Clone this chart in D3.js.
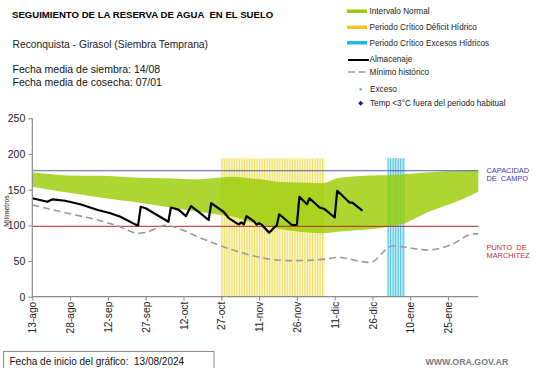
<!DOCTYPE html>
<html><head><meta charset="utf-8">
<script src="https://cdn.jsdelivr.net/npm/d3@7"></script>
<style>
html,body{margin:0;padding:0;background:#fff;}
svg{display:block;font-family:Arial,"Liberation Sans",sans-serif;}
</style></head>
<body>
<svg id="chart" width="541" height="368"></svg>
<script>
// ---------- DATA ----------
const startDate = "2024-08-13";
const endDate = "2025-02-06";
const yTicks = [0, 50, 100, 150, 200, 250];
const monthNames = ["ene","feb","mar","abr","may","jun","jul","ago","sep","oct","nov","dic"];

const capacidadCampo = 176.5;
const puntoMarchitez = 98.6;

const deficitPeriod = ["2024-10-27", "2024-12-06"];
const excesoPeriod = ["2025-01-01", "2025-01-07"];
const periodTop = 194;

const bandDates = ["2024-08-13","2024-08-20","2024-08-27","2024-09-09","2024-09-22","2024-10-05","2024-10-18","2024-10-27","2024-11-01","2024-11-07","2024-11-14","2024-11-18","2024-11-27","2024-12-06","2024-12-12","2024-12-17","2024-12-21","2024-12-25","2025-01-03","2025-01-07","2025-01-16","2025-01-30","2025-02-06"];
const bandUpper = [174,172,170,169.5,167,166,164.5,167,168,166,163.5,161,160,159,166,168,169,170,170.5,171.5,174,176.6,176.6];
const bandLower = [154,150,146,139,133,126,119,114.5,112,105,99,96,91,89,91,92.5,93.5,94.5,99,102,117,135.5,147];

const almDates = ["2024-08-13","2024-08-19","2024-08-21","2024-08-26","2024-09-01","2024-09-08","2024-09-13","2024-09-17","2024-09-23","2024-09-24","2024-09-25","2024-09-27","2024-10-06","2024-10-07","2024-10-10","2024-10-13","2024-10-15","2024-10-18","2024-10-22","2024-10-23","2024-10-28","2024-10-30","2024-11-02","2024-11-03","2024-11-04","2024-11-05","2024-11-06","2024-11-09","2024-11-10","2024-11-11","2024-11-12","2024-11-15","2024-11-17","2024-11-18","2024-11-19","2024-11-24","2024-11-26","2024-11-27","2024-11-30","2024-12-01","2024-12-05","2024-12-07","2024-12-11","2024-12-12","2024-12-17","2024-12-18","2024-12-22"];
const almValues = [138,133,136.5,134.5,129.5,121.5,117,112,101,100,126,124,105,125,122,113,127,119,107.5,131,118.7,110,103,101.5,104,101.5,113,105.6,101,103,101,89.7,97,99.5,115.5,100.5,100.5,140,129.5,138,125,122.8,111,148.5,131.7,131.7,120.5];

const minDates = ["2024-08-13","2024-08-27","2024-09-09","2024-09-16","2024-09-24","2024-09-27","2024-10-02","2024-10-05","2024-10-08","2024-10-19","2024-10-27","2024-11-09","2024-11-18","2024-11-25","2024-12-08","2024-12-12","2024-12-25","2025-01-03","2025-01-17","2025-01-26","2025-02-04","2025-02-06"];
const minValues = [128.5,117,106.5,99,89,90,97,100.5,98,82,71,57,51.5,50.5,53,55,48,71,65.5,72.5,88,88];

// ---------- SETUP ----------
const parse = d3.timeParse("%Y-%m-%d");
const svg = d3.select("#chart");
const x = d3.scaleTime().domain([parse(startDate), parse(endDate)]).range([32.3, 478.3]);
const y = d3.scaleLinear().domain([0, 250]).range([296.7, 118.3]);

const band = bandDates.map((d,i)=>({date:parse(d), hi:bandUpper[i], lo:bandLower[i]}));
const alm = almDates.map((d,i)=>({date:parse(d), v:almValues[i]}));
const mn = minDates.map((d,i)=>({date:parse(d), v:minValues[i]}));

// critical period bars (behind the band)
function periodBars(period, fill, stroke){
  const days = d3.timeDay.range(parse(period[0]), d3.timeDay.offset(parse(period[1]),1));
  const g = svg.append("g");
  days.forEach(d=>{
    const x0 = x(d), x1 = x(d3.timeDay.offset(d,1));
    g.append("rect").attr("x", x0).attr("y", y(periodTop)).attr("width", x1-x0).attr("height", y(0)-y(periodTop))
      .attr("fill", fill);
    g.append("line").attr("x1", x0+0.5).attr("x2", x0+0.5).attr("y1", y(periodTop)).attr("y2", y(0))
      .attr("stroke", stroke).attr("stroke-width", 0.9);
  });
}
periodBars(deficitPeriod, "#faf4bf", "#ebdc62");
periodBars(excesoPeriod, "#c4ecf7", "#3cbde2");

// green band
svg.append("path").datum(band)
  .attr("d", d3.area().x(d=>x(d.date)).y0(d=>y(d.lo)).y1(d=>y(d.hi)).curve(d3.curveMonotoneX))
  .attr("fill", "#99cc00").attr("fill-opacity", 0.8);

// reference lines
svg.append("line").attr("x1", x.range()[0]).attr("x2", x.range()[1])
  .attr("y1", y(capacidadCampo)).attr("y2", y(capacidadCampo))
  .attr("stroke", "#4f5fa8").attr("stroke-width", 1);
svg.append("line").attr("x1", x.range()[0]).attr("x2", x.range()[1])
  .attr("y1", y(puntoMarchitez)).attr("y2", y(puntoMarchitez))
  .attr("stroke", "#b02828").attr("stroke-width", 1);

// minimum historico
svg.append("path").datum(mn)
  .attr("d", d3.line().x(d=>x(d.date)).y(d=>y(d.v)).curve(d3.curveMonotoneX))
  .attr("fill","none").attr("stroke","#9a9a9a").attr("stroke-width",1.6).attr("stroke-dasharray","7,4");

// almacenaje
svg.append("path").datum(alm)
  .attr("d", d3.line().x(d=>x(d.date)).y(d=>y(d.v)))
  .attr("fill","none").attr("stroke","#000").attr("stroke-width",2.2).attr("stroke-linejoin","round");

// axes
const yAxis = svg.append("g").attr("transform", `translate(${x.range()[0]},0)`)
  .call(d3.axisLeft(y).tickValues(yTicks).tickSize(4).tickPadding(3));
yAxis.selectAll("text").attr("font-size", 10.5).attr("fill", "#222").attr("font-family","Arial, Liberation Sans, sans-serif");

const xTicks = d3.timeDay.range(parse(startDate), parse(endDate), 1).filter((d,i)=>i%15===0);
const xAxis = svg.append("g").attr("transform", `translate(0,${y(0)})`)
  .call(d3.axisBottom(x).tickValues(xTicks).tickSize(4)
    .tickFormat(d=>d.getDate()+"-"+monthNames[d.getMonth()]));
xAxis.selectAll("text").attr("font-size", 10.2).attr("fill","#222")
  .attr("transform","rotate(-90)").attr("text-anchor","end")
  .attr("x", -5).attr("y", 0).attr("dy","0.35em").attr("font-family","Arial, Liberation Sans, sans-serif");
[yAxis, xAxis].forEach(a=>{
  a.select(".domain").attr("stroke","#8a8a8a").attr("stroke-width",1.2);
  a.selectAll(".tick line").attr("stroke","#8a8a8a");
});
xAxis.select(".domain").attr("d", `M${x.range()[0]},0H${x.range()[1]}`);
yAxis.select(".domain").attr("d", `M0,${y(0)}V${y(250)}`);

// y label
svg.append("text").attr("transform","translate(9,211) rotate(-90)")
  .attr("text-anchor","middle").attr("font-size",6.8).attr("fill","#222").text("Milímetros");

// right labels
const rl = svg.append("g").attr("font-size",7.4);
rl.append("text").attr("x",486.5).attr("y",172.7).attr("fill","#3a3aa8").text("CAPACIDAD");
rl.append("text").attr("x",486.5).attr("y",180.9).attr("fill","#3a3aa8").attr("xml:space","preserve").text("DE  CAMPO");
rl.append("text").attr("x",486.5).attr("y",250).attr("fill","#c03030").attr("xml:space","preserve").text("PUNTO  DE");
rl.append("text").attr("x",486.5).attr("y",258).attr("fill","#c03030").text("MARCHITEZ");

// titles
svg.append("text").attr("x",12).attr("y",18.3).attr("font-size",9.6).attr("font-weight","bold")
  .attr("fill","#000").attr("xml:space","preserve").text("SEGUIMIENTO DE LA RESERVA DE AGUA  EN EL SUELO");
svg.append("text").attr("x",12.5).attr("y",47.7).attr("font-size",10.3).attr("fill","#222")
  .text("Reconquista - Girasol (Siembra Temprana)");
svg.append("text").attr("x",12.5).attr("y",73.3).attr("font-size",10.5).attr("fill","#111")
  .text("Fecha media de siembra: 14/08");
svg.append("text").attr("x",12.5).attr("y",86.3).attr("font-size",10.5).attr("fill","#111")
  .text("Fecha media de cosecha: 07/01");

// legend
const lg = svg.append("g").attr("font-size",8.2).attr("fill","#222");
const lx = 369.5;
lg.append("rect").attr("x",347).attr("y",9.5).attr("width",20).attr("height",3.5).attr("fill","#99cc00");
lg.append("text").attr("x",lx).attr("y",14).text("Intervalo Normal");
lg.append("rect").attr("x",347).attr("y",25.5).attr("width",20).attr("height",3.5).attr("fill","#f5c518");
lg.append("text").attr("x",lx).attr("y",29.8).text("Periodo Crítico Déficit Hídrico");
lg.append("rect").attr("x",347).attr("y",41).attr("width",20).attr("height",3.5).attr("fill","#1fb8e8");
lg.append("text").attr("x",lx).attr("y",45.5).text("Periodo Crítico Excesos Hídricos");
lg.append("line").attr("x1",348).attr("x2",369).attr("y1",60).attr("y2",60).attr("stroke","#000").attr("stroke-width",2);
lg.append("text").attr("x",lx).attr("y",61.5).text("Almacenaje");
lg.append("line").attr("x1",348).attr("x2",369).attr("y1",72).attr("y2",72).attr("stroke","#999").attr("stroke-width",1.6).attr("stroke-dasharray","7,3.5");
lg.append("text").attr("x",lx).attr("y",75.3).text("Mínimo histórico");
lg.append("rect").attr("x",359.6).attr("y",88.3).attr("width",2.2).attr("height",2.2).attr("fill","#2ab8d8");
lg.append("text").attr("x",lx+0.5).attr("y",92).text("Exceso");
lg.append("path").attr("d","M360.7,100.8L363.2,103.3L360.7,105.8L358.2,103.3Z").attr("fill","#1a1aa0");
lg.append("text").attr("x",lx+0.5).attr("y",106).text("Temp <3°C fuera del periodo habitual");

// bottom box
svg.append("rect").attr("x",3.5).attr("y",351.5).attr("width",210.5).attr("height",20)
  .attr("fill","#fff").attr("stroke","#a08484").attr("stroke-width",1);
svg.append("text").attr("x",9.5).attr("y",364.5).attr("font-size",10).attr("fill","#111")
  .attr("xml:space","preserve").text("Fecha de inicio del gráfico:  13/08/2024");
svg.append("text").attr("x",425.5).attr("y",365).attr("font-size",8.8).attr("font-weight","bold")
  .attr("fill","#7a7a7a").text("WWW.ORA.GOV.AR");
</script>
</body></html>
